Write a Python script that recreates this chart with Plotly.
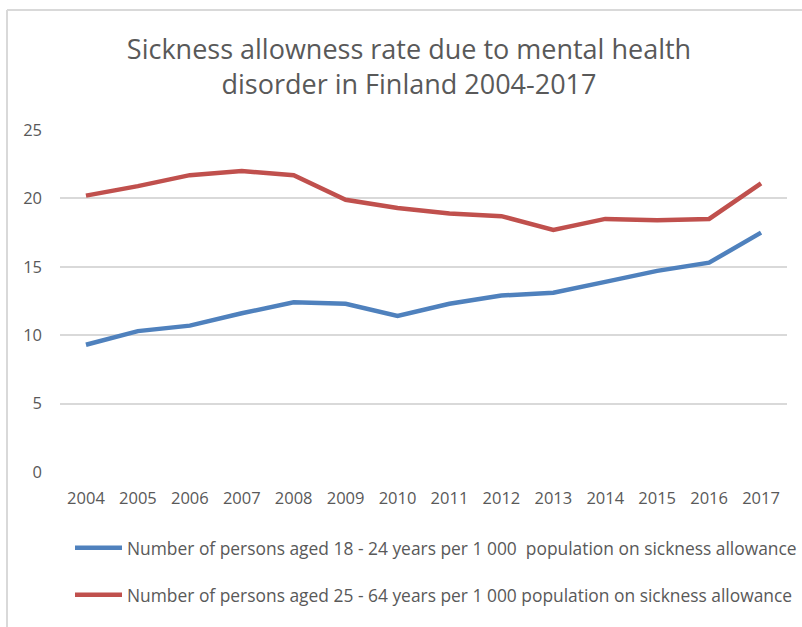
import plotly.graph_objects as go

years = [str(y) for y in range(2004, 2018)]
young = [9.3, 10.3, 10.7, 11.6, 12.4, 12.3, 11.4, 12.3, 12.9, 13.1, 13.9, 14.7, 15.3, 17.5]
adult = [20.2, 20.9, 21.7, 22.0, 21.7, 19.9, 19.3, 18.9, 18.7, 17.7, 18.5, 18.4, 18.5, 21.1]
name_young = "Number of persons aged 18 - 24 years per 1 000  population on sickness allowance"
name_adult = "Number of persons aged 25 - 64 years per 1 000 population on sickness allowance"
title_text = "Sickness allowness rate due to mental health<br>disorder in Finland 2004-2017"

FONT = "Open Sans, Roboto, Arial"
GRAY = "#595959"

fig = go.Figure()
fig.add_trace(go.Scatter(x=years, y=young, mode="lines", name=name_young,
                         line=dict(color="#4f81bd", width=4.5), legend="legend"))
fig.add_trace(go.Scatter(x=years, y=adult, mode="lines", name=name_adult,
                         line=dict(color="#c0504d", width=4.5), legend="legend2"))

legend_common = dict(xref="container", yref="container", xanchor="left", yanchor="middle",
                     font=dict(family=FONT, size=17.4, color=GRAY), bgcolor="rgba(0,0,0,0)",
                     itemwidth=47)

fig.update_layout(
    width=802, height=627,
    margin=dict(l=60, r=15, t=130, b=155, autoexpand=False),
    paper_bgcolor="white", plot_bgcolor="white",
    title=dict(text=title_text, x=409/802, xanchor="center", xref="container",
               y=1 - 59/627, yanchor="middle", yref="container",
               font=dict(family=FONT, size=27, color=GRAY)),
    xaxis=dict(type="category", range=[-0.5, 13.5], showgrid=False, showline=False, zeroline=False,
               ticks="", tickfont=dict(family=FONT, size=16.5, color=GRAY),
               ticklabelstandoff=14, tickangle=0),
    yaxis=dict(range=[0, 25], dtick=5, showgrid=True, gridcolor="#d9d9d9", gridwidth=1.5,
               zeroline=False, showline=False, ticks="",
               tickfont=dict(family=FONT, size=16.5, color=GRAY), ticklabelstandoff=17),
    legend=dict(x=70/802, y=1 - 548/627, **legend_common),
    legend2=dict(x=70/802, y=1 - 595/627, **legend_common),
    showlegend=True,
    shapes=[
        dict(type="line", xref="paper", yref="paper", x0=-53/727, x1=800/727, y0=(472-10)/342, y1=(472-10)/342,
             line=dict(color="#d9d9d9", width=2)),
        dict(type="line", xref="paper", yref="paper", x0=-53/727, x1=-53/727, y0=(472-10)/342, y1=(472-640)/342,
             line=dict(color="#d9d9d9", width=2)),
    ],
)

fig.write_html("out.html")
